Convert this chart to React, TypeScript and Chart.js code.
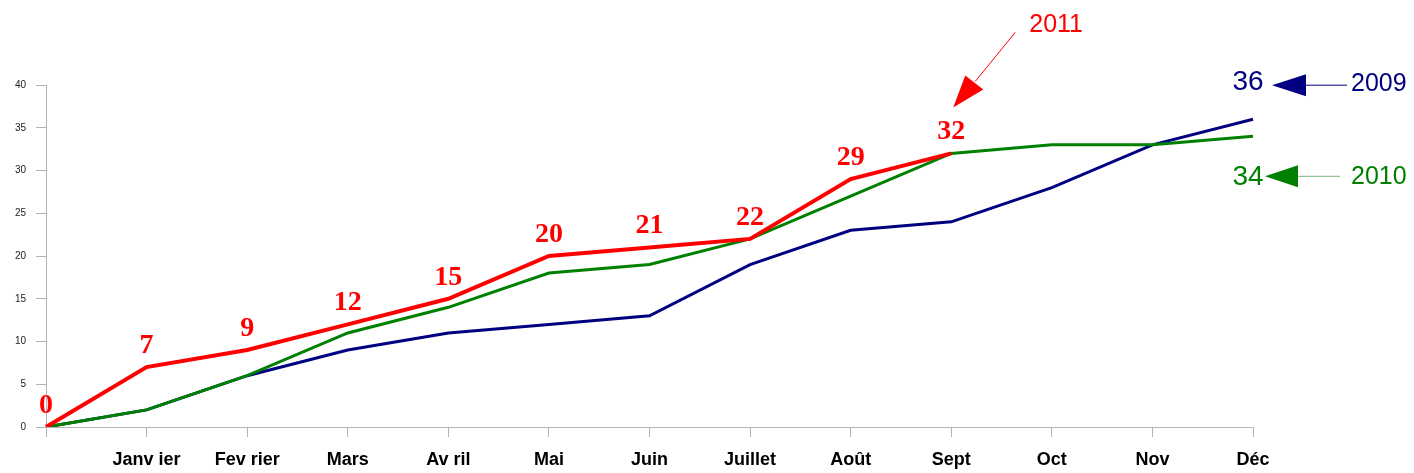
import React, { useEffect, useRef } from "react";
import { Chart, registerables } from "chart.js";

Chart.register(...registerables);

const categories = ["", "Janv ier", "Fev rier", "Mars", "Av ril", "Mai", "Juin", "Juillet", "Août", "Sept", "Oct", "Nov", "Déc"];
const values2009 = [0, 2, 6, 9, 11, 12, 13, 19, 23, 24, 28, 33, 36];
const values2010 = [0, 2, 6, 11, 14, 18, 19, 22, 27, 32, 33, 33, 34];
const values2011 = [0, 7, 9, 12, 15, 20, 21, 22, 29, 32, null, null, null];
const yTicks = [0, 5, 10, 15, 20, 25, 30, 35, 40];

const NAVY = "#000080";
const GREEN = "#008000";
const RED = "#ff0000";
const SANS = "'Liberation Sans', Arial, sans-serif";

function tri(ctx: CanvasRenderingContext2D, pts: number[][], color: string) {
  ctx.beginPath();
  ctx.moveTo(pts[0][0], pts[0][1]);
  ctx.lineTo(pts[1][0], pts[1][1]);
  ctx.lineTo(pts[2][0], pts[2][1]);
  ctx.closePath();
  ctx.fillStyle = color;
  ctx.fill();
}

function seg(ctx: CanvasRenderingContext2D, x1: number, y1: number, x2: number, y2: number, color: string) {
  ctx.beginPath();
  ctx.moveTo(x1, y1);
  ctx.lineTo(x2, y2);
  ctx.strokeStyle = color;
  ctx.lineWidth = 1;
  ctx.stroke();
}

const annotPlugin = {
  id: "annot",
  afterDatasetsDraw(chart: any) {
    const ctx: CanvasRenderingContext2D = chart.ctx;
    const xs = chart.scales.x;
    const ys = chart.scales.y;
    ctx.save();
    // red data labels
    ctx.font = "bold 28px 'Liberation Serif', 'Times New Roman', serif";
    ctx.fillStyle = RED;
    ctx.textAlign = "center";
    ctx.textBaseline = "alphabetic";
    values2011.forEach((v, i) => {
      if (v === null) return;
      const x = xs.getPixelForValue(i);
      const y = ys.getPixelForValue(v);
      ctx.fillText(String(v), x, y - 14);
    });

    // 2009 annotation
    const li9 = values2009.length - 1;
    const px = xs.getPixelForValue(li9);
    const py = ys.getPixelForValue(values2009[li9]);
    ctx.font = "28px " + SANS;
    ctx.fillStyle = NAVY;
    ctx.textAlign = "center";
    ctx.textBaseline = "middle";
    ctx.fillText(String(values2009[li9]), px - 5, py - 37);
    tri(ctx, [[px + 19, py - 34], [px + 53, py - 45], [px + 53, py - 23]], NAVY);
    seg(ctx, px + 53, py - 34, px + 94, py - 34, NAVY);
    ctx.font = "25px " + SANS;
    ctx.textAlign = "left";
    ctx.fillText("2009", px + 98, py - 35);

    // 2010 annotation
    const li0 = values2010.length - 1;
    const qx = xs.getPixelForValue(li0);
    const qy = ys.getPixelForValue(values2010[li0]);
    ctx.font = "28px " + SANS;
    ctx.fillStyle = GREEN;
    ctx.textAlign = "center";
    ctx.fillText(String(values2010[li0]), qx - 5, qy + 41);
    tri(ctx, [[qx + 12, qy + 40], [qx + 45, qy + 29], [qx + 45, qy + 51]], GREEN);
    seg(ctx, qx + 45, qy + 40, qx + 87, qy + 40, "rgba(0,128,0,0.55)");
    ctx.font = "25px " + SANS;
    ctx.textAlign = "left";
    ctx.fillText("2010", qx + 98, qy + 41);

    // 2011 annotation
    const ri = 9;
    const rx = xs.getPixelForValue(ri);
    const ry = ys.getPixelForValue(values2011[ri] as number);
    tri(ctx, [[rx + 2, ry - 46], [rx + 14, ry - 78], [rx + 32, ry - 64]], RED);
    seg(ctx, rx + 64, ry - 121, rx + 24, ry - 72, RED);
    ctx.fillStyle = RED;
    ctx.font = "25px " + SANS;
    ctx.textAlign = "left";
    ctx.fillText("2011", rx + 78, ry - 128);
    ctx.restore();
  },
};

export default function App() {
  const ref = useRef<HTMLCanvasElement>(null);
  useEffect(() => {
    if (!ref.current) return;
    const chart = new Chart(ref.current, {
      type: "line",
      data: {
        labels: categories,
        datasets: [
          { label: "2011", data: values2011, borderColor: RED, borderWidth: 4, pointRadius: 0, tension: 0, order: 0, spanGaps: false },
          { label: "2010", data: values2010, borderColor: GREEN, borderWidth: 3, pointRadius: 0, tension: 0, order: 1 },
          { label: "2009", data: values2009, borderColor: NAVY, borderWidth: 3, pointRadius: 0, tension: 0, order: 2 },
        ],
      },
      options: {
        animation: false,
        responsive: false,
        layout: { padding: { left: 0, right: 161, top: 85, bottom: 0 } },
        plugins: { legend: { display: false }, tooltip: { enabled: false } },
        scales: {
          x: {
            offset: false,
            grid: { display: true, drawOnChartArea: false, drawTicks: true, tickLength: 10, color: "#b3b3b3", offset: false },
            border: { display: true, color: "#b3b3b3", width: 1 },
            ticks: {
              autoSkip: false,
              maxRotation: 0,
              padding: 12,
              color: "#000",
              font: { family: SANS, size: 18, weight: "bold" },
            },
            afterFit: (s: any) => { s.height = 46; },
          },
          y: {
            min: 0,
            max: 40,
            afterBuildTicks: (s: any) => { s.ticks = yTicks.map((v) => ({ value: v })); },
            grid: { display: true, drawOnChartArea: false, drawTicks: true, tickLength: 10, color: "#b3b3b3" },
            border: { display: true, color: "#b3b3b3", width: 1 },
            ticks: { padding: 10, color: "#222", font: { family: SANS, size: 10 } },
            afterFit: (s: any) => { s.width = 46; },
          },
        },
      },
      plugins: [annotPlugin],
    } as any);
    return () => chart.destroy();
  }, []);
  return (
    <div style={{ position: "fixed", left: 0, top: 0, width: 1414, height: 473, background: "#fff" }}>
      <canvas ref={ref} width={1414} height={473} style={{ width: 1414, height: 473, display: "block" }} />
    </div>
  );
}
